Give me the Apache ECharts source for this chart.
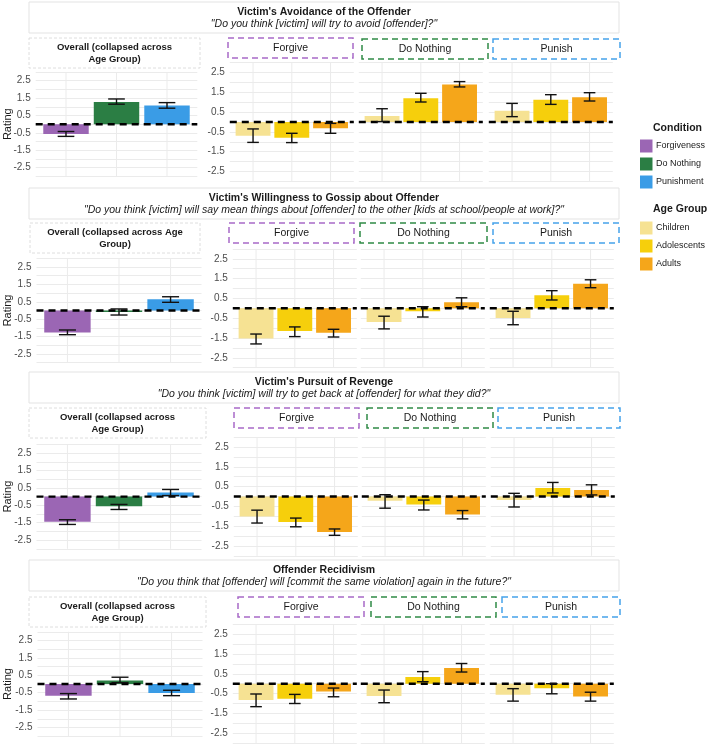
<!DOCTYPE html>
<html><head><meta charset="utf-8">
<script src="https://cdn.jsdelivr.net/npm/echarts@6/dist/echarts.min.js"></script>
<style>html,body{margin:0;padding:0;background:#fff}#c{width:709px;height:746px}</style>
</head><body><div id="c"></div>
<script>
// ---------- data ----------
const measures = ["Victim's Avoidance of the Offender", "Victim's Willingness to Gossip about Offender", "Victim's Pursuit of Revenge", "Offender Recidivism"];
const questions = ["\"Do you think [victim] will try to avoid [offender]?\"",
  "\"Do you think [victim] will say mean things about [offender] to the other [kids at school/people at work]?\"",
  "\"Do you think [victim] will try to get back at [offender] for what they did?\"",
  "\"Do you think that [offender] will [commit the same violation] again in the future?\""];
const overallStrip = [["Overall (collapsed across", "Age Group)"], ["Overall (collapsed across Age", "Group)"], ["Overall (collapsed across", "Age Group)"], ["Overall (collapsed across", "Age Group)"]];
const conditions = ["Forgiveness", "Do Nothing", "Punishment"];
const facetLabels = ["Forgive", "Do Nothing", "Punish"];
const ageGroups = ["Children", "Adolescents", "Adults"];
const yTicks = [2.5, 1.5, 0.5, -0.5, -1.5, -2.5];
const zeroRef = 0;

// overall (collapsed across age group): [measure][condition]
const overallMean = [[-0.56, 1.28, 1.07], [-1.26, -0.08, 0.64], [-1.45, -0.56, 0.24], [-0.67, 0.20, -0.52]];
const overallLow  = [[-0.70, 1.15, 0.92], [-1.39, -0.26, 0.47], [-1.60, -0.74, 0.06], [-0.86, 0.08, -0.67]];
const overallHigh = [[-0.42, 1.45, 1.24], [-1.12, 0.09, 0.79], [-1.33, -0.45, 0.41], [-0.55, 0.39, -0.36]];

// by age group: [condition facet][age group]
const avoidMean = [[-0.69, -0.79, -0.32], [0.30, 1.20, 1.90], [0.57, 1.13, 1.25]];
const avoidLow  = [[-1.03, -1.04, -0.57], [0.02, 1.01, 1.77], [0.27, 0.89, 1.06]];
const avoidHigh = [[-0.35, -0.57, -0.07], [0.67, 1.45, 2.04], [0.94, 1.38, 1.48]];

const gossipMean = [[-1.53, -1.15, -1.23], [-0.69, -0.15, 0.30], [-0.49, 0.66, 1.24]];
const gossipLow  = [[-1.80, -1.43, -1.45], [-1.04, -0.44, 0.08], [-0.83, 0.42, 1.04]];
const gossipHigh = [[-1.30, -0.94, -1.06], [-0.40, 0.08, 0.53], [-0.15, 0.89, 1.44]];

const revengeMean = [[-1.01, -1.29, -1.79], [-0.21, -0.41, -0.91], [-0.18, 0.43, 0.33]];
const revengeLow  = [[-1.34, -1.53, -1.96], [-0.59, -0.68, -1.13], [-0.53, 0.18, 0.08]];
const revengeHigh = [[-0.69, -1.09, -1.64], [0.09, -0.18, -0.71], [0.16, 0.71, 0.59]];

const recidMean = [[-0.82, -0.76, -0.40], [-0.62, 0.34, 0.79], [-0.56, -0.23, -0.65]];
const recidLow  = [[-1.16, -1.00, -0.66], [-0.96, 0.10, 0.59], [-0.88, -0.51, -0.88]];
const recidHigh = [[-0.52, -0.54, -0.22], [-0.32, 0.61, 1.02], [-0.25, 0.00, -0.43]];

const facetMean = [avoidMean, gossipMean, revengeMean, recidMean];
const facetLow = [avoidLow, gossipLow, revengeLow, recidLow];
const facetHigh = [avoidHigh, gossipHigh, revengeHigh, recidHigh];

// ---------- styles / layout ----------
const FONT = "'Liberation Sans', Arial, sans-serif";
const TICKFONT = "'Liberation Sans Narrow', 'Liberation Sans', Arial, sans-serif";
const condColors = ['#9B66B4', '#2B7E44', '#3A9CE6'];
const ageColors = ['#F6E293', '#F6CF0C', '#F5A61A'];
const stripColors = ['#A86AC8', '#2F8A45', '#45A3EA'];
const GRID = '#EBEBEB';

const blocks = [
  {title: 2, oTop: 72, fTop: 62.6, oLeft: 35.7, oW: 161.6, fLefts: [229.8, 358.8, 488.8],
   oStrip: [29, 38, 171, 30], fStrips: [[228, 38, 125, 20], [362, 39, 126, 20], [493, 39, 127, 20]]},
  {title: 188, oTop: 258.3, fTop: 248.9, oLeft: 36.5, oW: 165, fLefts: [232.8, 360.8, 489.8],
   oStrip: [30, 223, 170, 30], fStrips: [[229, 223, 125, 20], [360, 223, 127, 20], [493, 223, 126, 20]]},
  {title: 372, oTop: 444.4, fTop: 437.1, oLeft: 36.5, oW: 165, fLefts: [233.8, 361.8, 490.8],
   oStrip: [29, 408, 177, 30], fStrips: [[234, 408, 125, 20], [367, 408, 126, 20], [498, 408, 122, 20]]},
  {title: 560, oTop: 631.8, fTop: 624.3, oLeft: 37.5, oW: 165, fLefts: [232.8, 360.8, 489.8],
   oStrip: [29, 597, 177, 30], fStrips: [[238, 597, 126, 20], [371, 597, 125, 20], [502, 597, 118, 20]]}
];
const O_H = 104.4, F_H = 118.8, F_W = 124;

const grids = [], xAxes = [], yAxes = [], series = [], graphics = [];

function addPanel(left, top, width, height, means, lows, highs, colors, barW, capW, showLabels) {
  const gi = grids.length;
  grids.push({left: left, top: top, width: width, height: height});
  xAxes.push({type: 'value', gridIndex: gi, min: 0.4, max: 3.6, show: false});
  yAxes.push({type: 'value', gridIndex: gi, min: -3, max: 3, interval: 0.5,
    axisLine: {show: false}, axisTick: {show: false},
    splitLine: {lineStyle: {color: GRID, width: 1}},
    axisLabel: {show: showLabels, formatter: v => yTicks.includes(v) ? v.toFixed(1) : '', color: '#4D4D4D', fontSize: 10, fontFamily: TICKFONT, margin: 5}});
  series.push({type: 'custom', xAxisIndex: gi, yAxisIndex: gi, z: 1, silent: true,
    data: means.map((v, i) => [i + 1, v]),
    renderItem: (p, api) => {
      const a = api.coord([api.value(0), 3]), b = api.coord([api.value(0), -3]);
      return {type: 'line', shape: {x1: a[0], y1: a[1], x2: b[0], y2: b[1]}, style: {stroke: GRID, lineWidth: 1}};
    }});
  series.push({type: 'bar', xAxisIndex: gi, yAxisIndex: gi, z: 2, silent: true, barWidth: barW,
    data: means.map((v, i) => ({value: [i + 1, v], itemStyle: {color: colors[i]}}))});
  series.push({type: 'custom', xAxisIndex: gi, yAxisIndex: gi, z: 3, silent: true,
    data: [[0.4, zeroRef, 3.6]],
    renderItem: (p, api) => {
      const a = api.coord([api.value(0), api.value(1)]), b = api.coord([api.value(2), api.value(1)]);
      return {type: 'line', shape: {x1: a[0], y1: a[1], x2: b[0], y2: b[1]}, style: {stroke: '#000', lineWidth: 2.4, lineDash: [7, 5]}};
    }});
  series.push({type: 'custom', xAxisIndex: gi, yAxisIndex: gi, z: 4, silent: true,
    data: means.map((v, i) => [i + 1, lows[i], highs[i]]),
    renderItem: (p, api) => {
      const lo = api.coord([api.value(0), api.value(1)]), hi = api.coord([api.value(0), api.value(2)]);
      const st = {stroke: '#111', lineWidth: 1.4};
      return {type: 'group', children: [
        {type: 'line', shape: {x1: lo[0], y1: lo[1], x2: hi[0], y2: hi[1]}, style: st},
        {type: 'line', shape: {x1: lo[0] - capW / 2, y1: lo[1], x2: lo[0] + capW / 2, y2: lo[1]}, style: st},
        {type: 'line', shape: {x1: hi[0] - capW / 2, y1: hi[1], x2: hi[0] + capW / 2, y2: hi[1]}, style: st}
      ]};
    }});
}

blocks.forEach((bk, m) => {
  // title box
  graphics.push({type: 'rect', silent: true, z: 0, shape: {x: 29, y: bk.title, width: 590, height: 31},
    style: {fill: '#fff', stroke: '#E3E3E3', lineWidth: 1}});
  graphics.push({type: 'text', silent: true, style: {text: measures[m], x: 324, y: bk.title + 10, align: 'center', verticalAlign: 'middle',
    font: 'bold 10.5px ' + FONT, fill: '#1a1a1a'}});
  graphics.push({type: 'text', silent: true, style: {text: questions[m], x: 324, y: bk.title + 22.5, align: 'center', verticalAlign: 'middle',
    font: 'italic 10.5px ' + FONT, fill: '#1a1a1a'}});
  // overall strip
  const os = bk.oStrip;
  graphics.push({type: 'rect', silent: true, shape: {x: os[0], y: os[1], width: os[2], height: os[3]},
    style: {fill: '#fff', stroke: '#D6D6D6', lineWidth: 0.8, lineDash: [3, 2]}});
  graphics.push({type: 'text', silent: true, style: {text: overallStrip[m].join('\n'), x: os[0] + os[2] / 2, y: os[1] + os[3] / 2,
    align: 'center', verticalAlign: 'middle', lineHeight: 12, font: 'bold 9.5px ' + FONT, fill: '#1a1a1a'}});
  // facet strips
  bk.fStrips.forEach((fs, k) => {
    graphics.push({type: 'rect', silent: true, shape: {x: fs[0], y: fs[1], width: fs[2], height: fs[3]},
      style: {fill: '#fff', stroke: stripColors[k], lineWidth: 1.5, lineDash: [6, 4]}});
    graphics.push({type: 'text', silent: true, style: {text: facetLabels[k], x: fs[0] + fs[2] / 2, y: fs[1] + fs[3] / 2 + 0.5,
      align: 'center', verticalAlign: 'middle', font: '10.5px ' + FONT, fill: '#1a1a1a'}});
  });
  // Rating label
  graphics.push({type: 'text', silent: true, rotation: Math.PI / 2, x: 8, y: bk.oTop + O_H / 2,
    style: {text: 'Rating', x: 0, y: 0, align: 'center', verticalAlign: 'middle', font: '11px ' + FONT, fill: '#1a1a1a'}});
  // panels
  addPanel(bk.oLeft, bk.oTop, bk.oW, O_H, overallMean[m], overallLow[m], overallHigh[m], condColors, bk.oW / 3.2 * 0.9, bk.oW / 3.2 * 0.33, true);
  for (let k = 0; k < 3; k++) {
    addPanel(bk.fLefts[k], bk.fTop, F_W, F_H, facetMean[m][k], facetLow[m][k], facetHigh[m][k], ageColors, F_W / 3.2 * 0.9, F_W / 3.2 * 0.3, k === 0);
  }
});

// legends
function legendGroup(title, names, colors, titleY, firstY) {
  graphics.push({type: 'text', silent: true, style: {text: title, x: 653, y: titleY, align: 'left', verticalAlign: 'middle', font: 'bold 10.5px ' + FONT, fill: '#1a1a1a'}});
  names.forEach((n, i) => {
    const cy = firstY + i * 18;
    graphics.push({type: 'rect', silent: true, shape: {x: 640, y: cy - 6.5, width: 12.5, height: 13}, style: {fill: colors[i]}});
    graphics.push({type: 'text', silent: true, style: {text: n, x: 656, y: cy, align: 'left', verticalAlign: 'middle', font: '9px ' + FONT, fill: '#1a1a1a'}});
  });
}
legendGroup('Condition', conditions, condColors, 128, 146);
legendGroup('Age Group', ageGroups, ageColors, 209, 228);

const chart = echarts.init(document.getElementById('c'), null, {renderer: 'canvas'});
chart.setOption({
  animation: false,
  backgroundColor: '#fff',
  grid: grids, xAxis: xAxes, yAxis: yAxes, series: series,
  graphic: {elements: graphics}
});
</script></body></html>
